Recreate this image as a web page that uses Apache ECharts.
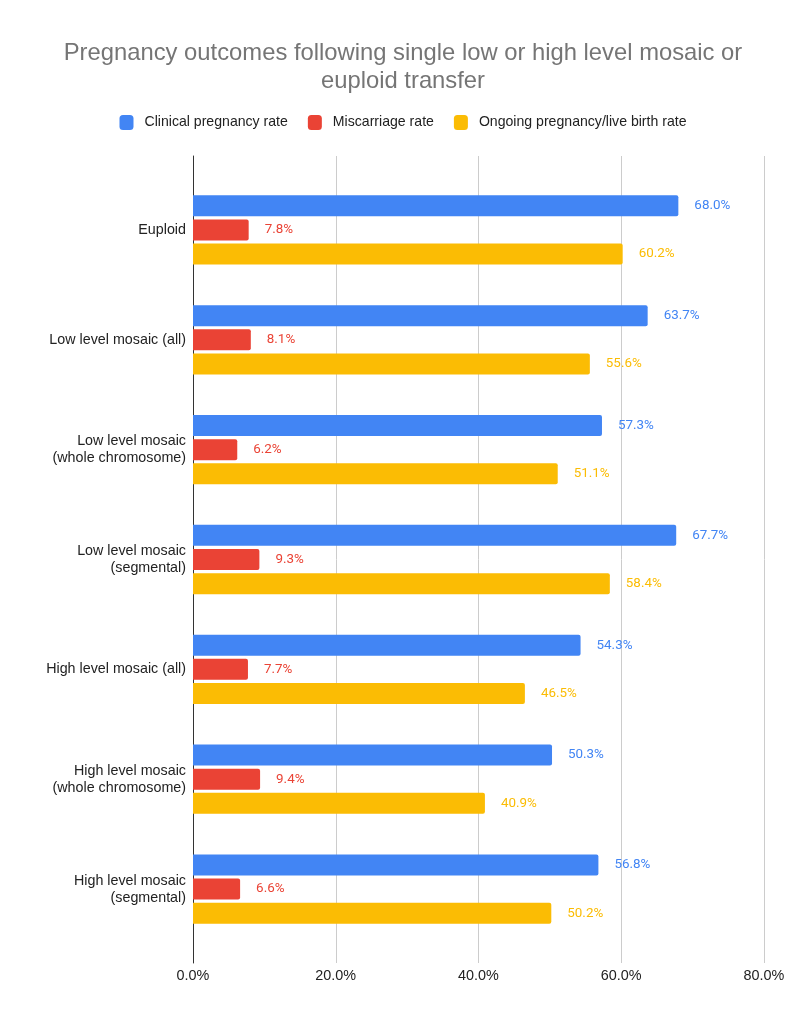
<!DOCTYPE html>
<html>
<head>
<meta charset="utf-8">
<script src="https://cdn.jsdelivr.net/npm/echarts@6/dist/echarts.min.js"></script>
<style>
  html, body { margin: 0; padding: 0; background: #fff; }
  #chart { width: 806px; height: 1024px; }
</style>
</head>
<body>
<div id="chart"></div>
<script>
// categories, top to bottom
const categories = [
  'Euploid',
  'Low level mosaic (all)',
  'Low level mosaic\n(whole chromosome)',
  'Low level mosaic\n(segmental)',
  'High level mosaic (all)',
  'High level mosaic\n(whole chromosome)',
  'High level mosaic\n(segmental)'
];
const clinicalRate = [68.0, 63.7, 57.3, 67.7, 54.3, 50.3, 56.8];
const miscarriageRate = [7.8, 8.1, 6.2, 9.3, 7.7, 9.4, 6.6];
const ongoingRate = [60.2, 55.6, 51.1, 58.4, 46.5, 40.9, 50.2];
const xTicks = [0, 20, 40, 60, 80];

const seriesNames = ['Clinical pregnancy rate', 'Miscarriage rate', 'Ongoing pregnancy/live birth rate'];
const colors = ['#4285F4', '#EA4335', '#FBBC04'];
const FONT = 'Liberation Sans';
const LABEL_FONT = 'Roboto';

function makeBar(name, data, color) {
  return {
    name: name,
    type: 'bar',
    xAxisIndex: 1,
    yAxisIndex: 1,
    data: data,
    barWidth: 21,
    barGap: '15%',
    itemStyle: { color: color, borderRadius: [0, 2, 2, 0] },
    label: {
      show: true,
      position: 'right',
      distance: 16,
      color: color,
      fontFamily: LABEL_FONT,
      fontSize: 13.4,
      formatter: p => p.value.toFixed(1) + '%'
    }
  };
}

const chart = echarts.init(document.getElementById('chart'));
chart.setOption({
  animation: false,
  textStyle: { fontFamily: FONT },
  title: {
    text: 'Pregnancy outcomes following single low or high level mosaic or\neuploid transfer',
    left: 'center',
    top: 34,
    textStyle: { fontFamily: FONT, fontSize: 23.8, fontWeight: 'normal', color: '#757575', lineHeight: 28 }
  },
  legend: {
    top: 110,
    left: 'center',
    itemWidth: 14,
    itemHeight: 15,
    itemGap: 20,
    icon: 'roundRect',
    textStyle: { fontFamily: FONT, fontSize: 14.1, color: '#222', padding: [0, 0, 0, 6] },
    data: seriesNames
  },
  grid: [
    // outer grid: axis line and gridlines
    { left: 193, right: 42, top: 156, bottom: 61 },
    // inner grid: bars
    { left: 193, right: 42, top: 175, bottom: 80 }
  ],
  xAxis: [
    {
      gridIndex: 0,
      type: 'value',
      min: xTicks[0],
      max: xTicks[xTicks.length - 1],
      interval: 20,
      axisLine: { show: false },
      axisTick: { show: false },
      splitLine: { lineStyle: { color: '#cccccc', width: 1 } },
      axisLabel: {
        margin: 6,
        color: '#222',
        fontFamily: FONT,
        fontSize: 14.4,
        formatter: v => v.toFixed(1) + '%'
      }
    },
    {
      gridIndex: 1,
      type: 'value',
      min: xTicks[0],
      max: xTicks[xTicks.length - 1],
      show: false
    }
  ],
  yAxis: [
    {
      gridIndex: 0,
      type: 'value',
      min: 0,
      max: 1,
      axisLine: { show: true, lineStyle: { color: '#333', width: 1 } },
      axisTick: { show: false },
      axisLabel: { show: false },
      splitLine: { show: false }
    },
    {
      gridIndex: 1,
      type: 'category',
      inverse: true,
      data: categories,
      axisLine: { show: false },
      axisTick: { show: false },
      splitLine: { show: false },
      axisLabel: {
        margin: 7,
        color: '#222',
        fontFamily: FONT,
        fontSize: 14.3,
        lineHeight: 17,
        align: 'right'
      }
    }
  ],
  series: [
    makeBar(seriesNames[0], clinicalRate, colors[0]),
    makeBar(seriesNames[1], miscarriageRate, colors[1]),
    makeBar(seriesNames[2], ongoingRate, colors[2])
  ]
});
</script>
</body>
</html>
